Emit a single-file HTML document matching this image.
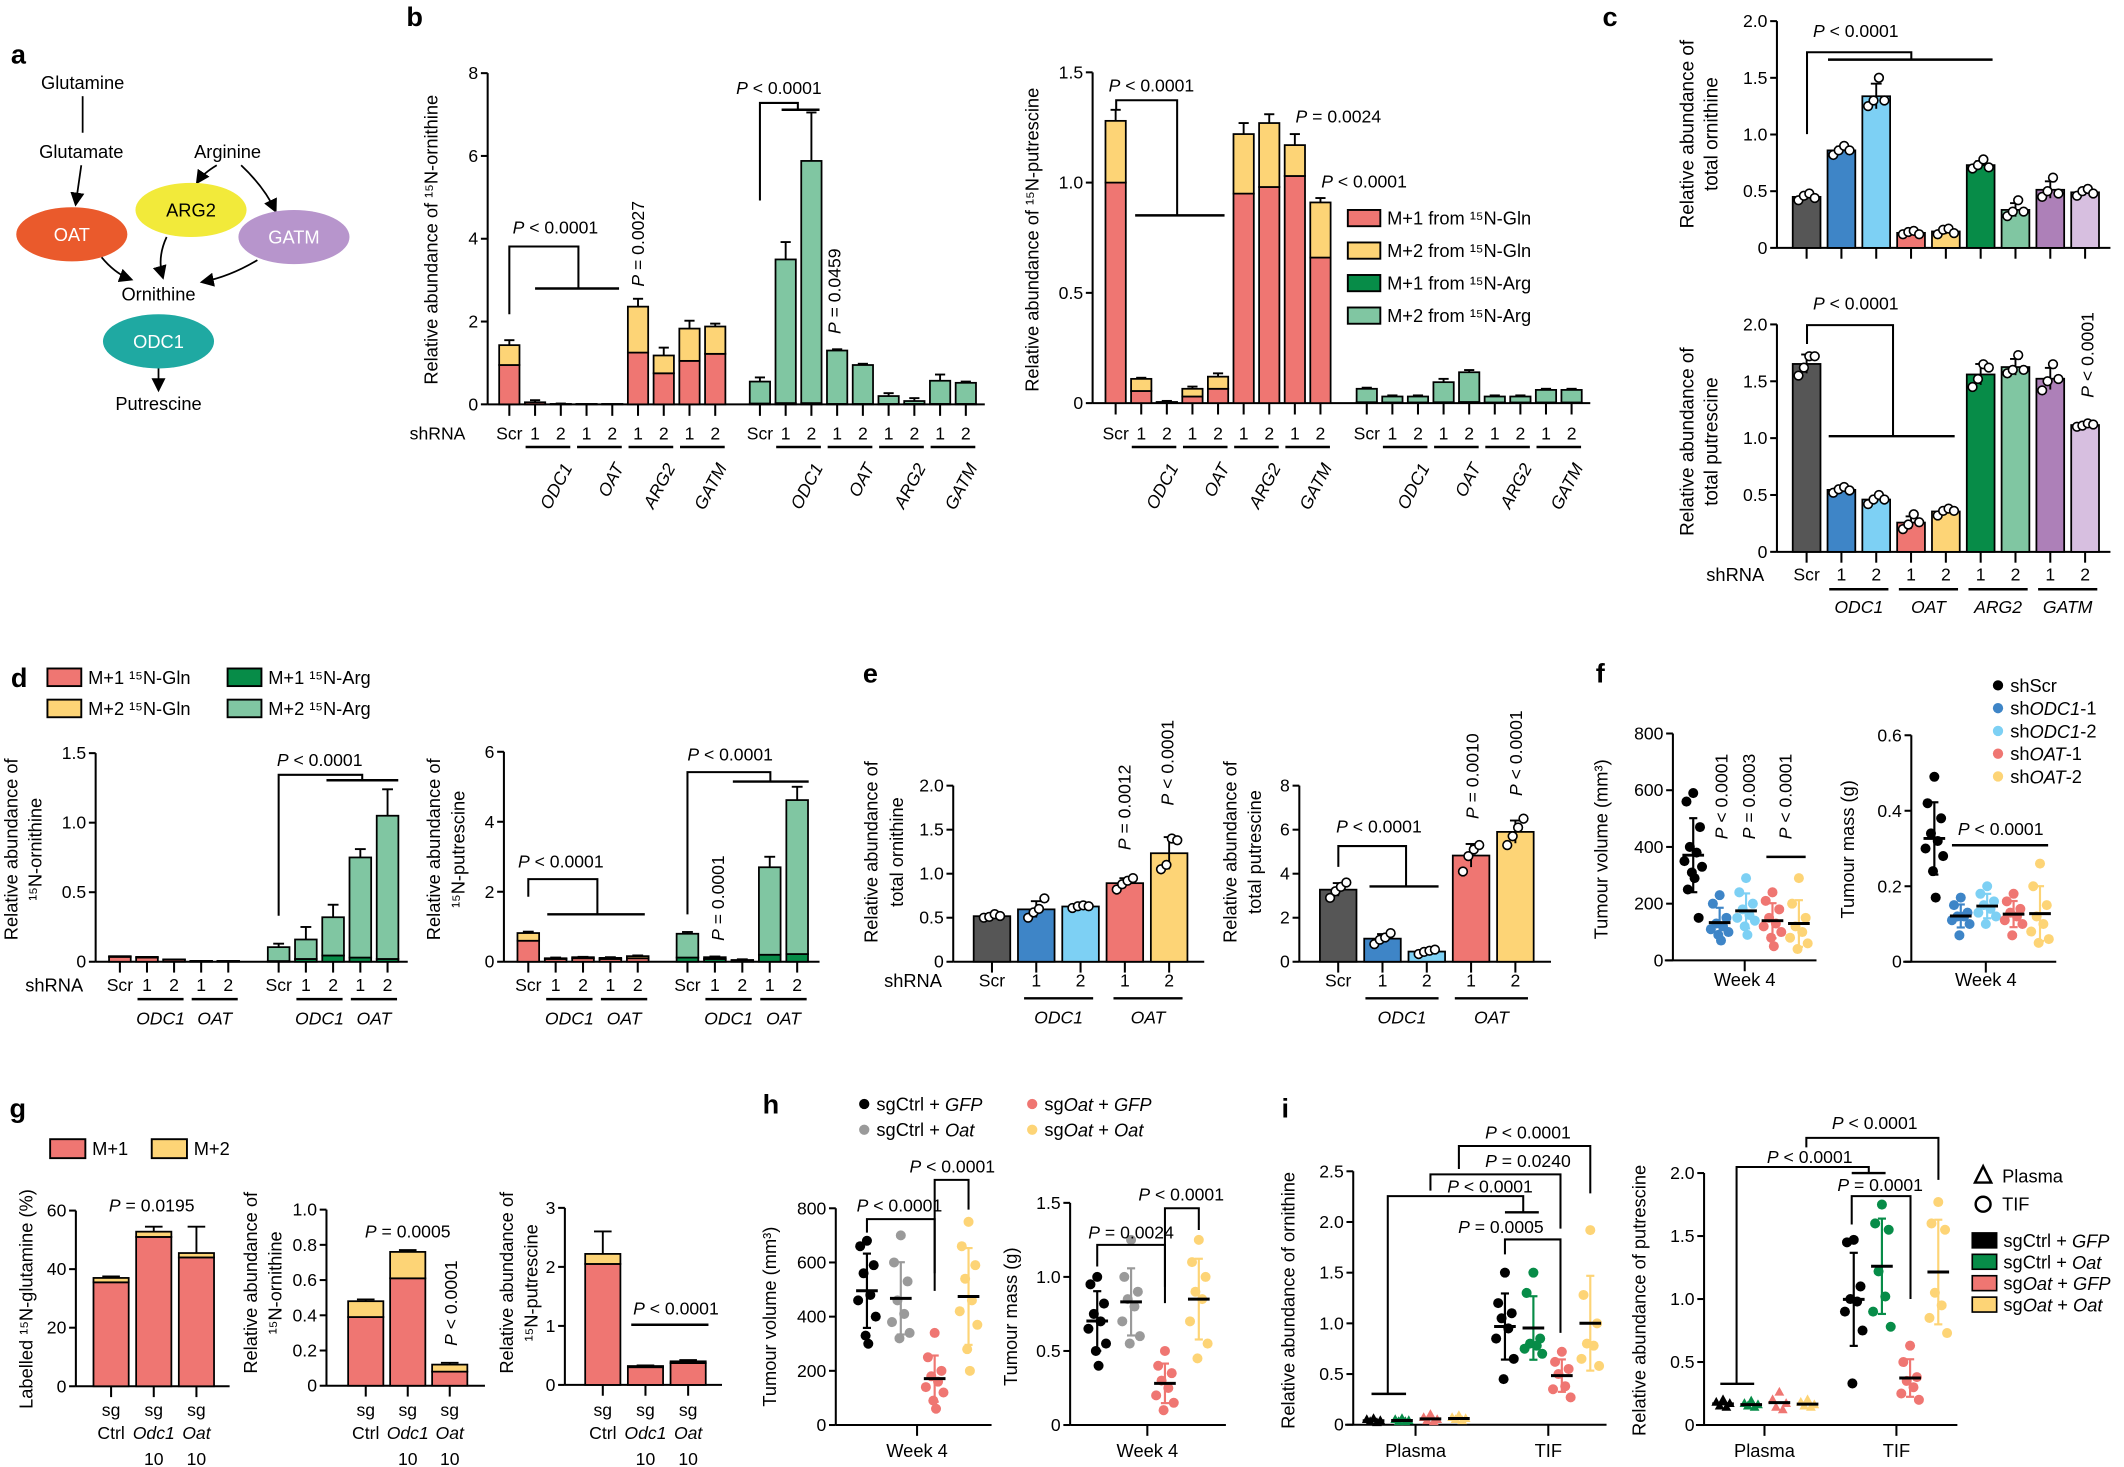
<!DOCTYPE html>
<html><head><meta charset="utf-8"><style>
html,body{margin:0;padding:0;background:#fff}
svg{display:block;font-family:"Liberation Sans",Arial,sans-serif}
</style></head><body>
<svg id="fig" xmlns="http://www.w3.org/2000/svg" width="2124" height="1467" viewBox="0 0 1568 1083"></svg>
<script>
// ---------- DATA ----------
const bCats=['Scr','1','2','1','2','1','2','1','2'];
const bOrnGlnM1=[0.95,0.05,0.01,0.01,0.01,1.25,0.75,1.05,1.22];
const bOrnGlnM2=[0.48,0.0,0.0,0.0,0.0,1.11,0.43,0.78,0.66];
const bOrnGlnErr=[1.55,0.1,0.02,0,0,2.55,1.37,2.02,1.95];
const bOrnArgM1=[0.02,0.03,0.03,0.01,0.01,0.01,0.01,0.01,0.01];
const bOrnArgM2=[0.53,3.47,5.85,1.29,0.94,0.19,0.07,0.56,0.51];
const bOrnArgErr=[0.65,3.92,7.05,1.33,0.98,0.27,0.15,0.72,0.55];
const bPutGlnM1=[1.0,0.055,0.004,0.03,0.065,0.95,0.98,1.03,0.66];
const bPutGlnM2=[0.28,0.055,0.001,0.035,0.055,0.27,0.29,0.14,0.25];
const bPutGlnErr=[1.33,0.115,0.01,0.075,0.135,1.27,1.31,1.22,0.93];
const bPutArgM1=[0.004,0.003,0.003,0.004,0.005,0.003,0.003,0.003,0.003];
const bPutArgM2=[0.061,0.027,0.027,0.091,0.135,0.027,0.027,0.057,0.057];
const bPutArgErr=[0.07,0.035,0.035,0.11,0.15,0.035,0.035,0.065,0.065];
const cCats=['Scr','1','2','1','2','1','2','1','2'];
const cOrnReps=[[0.42,0.46,0.48,0.44],[0.82,0.86,0.9,0.86],[1.25,1.3,1.5,1.3],[0.12,0.14,0.15,0.12],[0.12,0.16,0.17,0.13],[0.7,0.73,0.78,0.71],[0.28,0.32,0.42,0.32],[0.45,0.5,0.62,0.48],[0.46,0.5,0.52,0.48]];
const cPutReps=[[1.55,1.62,1.72,1.72],[0.52,0.55,0.57,0.54],[0.42,0.46,0.5,0.46],[0.2,0.24,0.33,0.26],[0.32,0.36,0.38,0.36],[1.45,1.52,1.65,1.62],[1.57,1.6,1.73,1.6],[1.42,1.5,1.65,1.52],[1.1,1.11,1.13,1.12]];
const dCats=['Scr','1','2','1','2'];
const dOrnGlnM1=[0.035,0.03,0.015,0.005,0.005];
const dOrnGlnM2=[0.005,0.005,0.002,0.001,0.001];
const dOrnArgM1=[0.005,0.02,0.045,0.03,0.02];
const dOrnArgM2=[0.1,0.14,0.275,0.72,1.03];
const dOrnArgErr=[0.13,0.25,0.41,0.81,1.24];
const dPutGlnM1=[0.6,0.08,0.1,0.08,0.1];
const dPutGlnM2=[0.22,0.02,0.03,0.03,0.06];
const dPutGlnErr=[0.86,0.12,0.14,0.13,0.18];
const dPutArgM1=[0.12,0.08,0.02,0.2,0.22];
const dPutArgM2=[0.68,0.05,0.03,2.5,4.4];
const dPutArgErr=[0.85,0.15,0.07,3.0,5.0];
const eCats=['Scr','1','2','1','2'];
const eOrnReps=[[0.5,0.51,0.54,0.52],[0.5,0.56,0.6,0.72],[0.61,0.63,0.64,0.63],[0.82,0.88,0.92,0.95],[1.05,1.1,1.4,1.38]];
const ePutReps=[[2.9,3.2,3.4,3.6],[0.8,1.0,1.1,1.3],[0.35,0.45,0.5,0.55],[4.1,4.8,5.1,5.3],[5.3,5.7,6.1,6.5]];
const fVol=[[590,560,470,400,380,350,330,310,290,250,150],[230,200,150,130,120,110,100,90,70],[290,240,200,180,160,150,140,120,90],[240,210,180,150,130,120,100,80,50],[290,200,150,120,100,80,60,40]];
const fMass=[[0.49,0.42,0.38,0.34,0.32,0.3,0.28,0.24,0.17],[0.17,0.15,0.13,0.12,0.12,0.11,0.1,0.07],[0.2,0.18,0.16,0.15,0.14,0.13,0.12,0.1],[0.18,0.16,0.14,0.13,0.12,0.11,0.1,0.07],[0.26,0.2,0.15,0.12,0.1,0.08,0.06,0.05]];
const gCats=['Ctrl','Odc1','Oat'];
const gGlnM1=[35.5,51,44]; const gGlnM2=[1.5,1.8,1.5]; const gGlnErr=[37.5,54.5,54.5];
const gOrnM1=[0.39,0.61,0.08]; const gOrnM2=[0.09,0.15,0.04]; const gOrnErr=[0.49,0.77,0.13];
const gPutM1=[2.05,0.3,0.37]; const gPutM2=[0.17,0.02,0.03]; const gPutErr=[2.6,0.33,0.42];
const hVol=[[680,660,590,560,480,460,400,330,300],[700,600,530,460,410,380,340,320],[340,250,200,180,160,140,120,90,60],[750,660,590,540,460,420,370,280,200]];
const hMass=[[1.0,0.95,0.82,0.75,0.7,0.65,0.55,0.5,0.4],[1.25,1.0,0.9,0.85,0.8,0.7,0.6,0.55],[0.5,0.4,0.35,0.3,0.25,0.2,0.15,0.1],[1.25,1.1,1.0,0.9,0.85,0.7,0.55,0.45]];
const iOrnPlasma=[[0.06,0.05,0.04,0.03,0.02],[0.06,0.05,0.04,0.03,0.03],[0.1,0.07,0.05,0.04,0.03],[0.09,0.07,0.06,0.05,0.04]];
const iOrnTIF=[[1.5,1.2,1.1,1.05,0.95,0.85,0.65,0.45],[1.5,1.3,0.85,0.8,0.78,0.75,0.7],[0.72,0.62,0.55,0.5,0.38,0.35,0.27],[1.92,1.28,1.0,0.8,0.78,0.65,0.58]];
const iPutPlasma=[[0.2,0.18,0.17,0.15,0.14],[0.19,0.17,0.16,0.15,0.14],[0.26,0.2,0.17,0.14,0.12],[0.2,0.18,0.16,0.15,0.14]];
const iPutTIF=[[1.47,1.45,1.1,1.0,0.98,0.9,0.75,0.33],[1.75,1.6,1.55,1.22,1.02,0.9,0.78],[0.63,0.5,0.38,0.35,0.3,0.25,0.2],[1.77,1.6,1.55,1.05,0.95,0.85,0.73]];

// ---------- HELPERS ----------
const NS='http://www.w3.org/2000/svg';
const svg=document.getElementById('fig');
const C={red:'#ef7672',yel:'#fdd476',dg:'#078c48',lg:'#80c6a2',gray:'#565656',blue:'#3e85c7',lb:'#7dd0f4',pur:'#ad80b8',lp:'#d7bfe0',bgray:'#9a9a9a',blk:'#000'};
const JIT=[0,-5,5,-2.5,2.5,-6.5,6.5,-1,1,-4,4];
function mk(tag,p,name){const e=document.createElementNS(NS,tag);


(p||svg).appendChild(e);return e;}
function set(e,o){for(const k in o)e.setAttribute(k,o[k]);return e;}
function grp(name){return mk('g',svg,name);}
function line(p,x1,y1,x2,y2,name,w,col){return set(mk('line',p,name),{x1,y1,x2,y2,stroke:col||'#000','stroke-width':w||1.5});}
function pl(p,pts,name){return set(mk('polyline',p,name),{points:pts.map(a=>a.join(',')).join(' '),fill:'none',stroke:'#000','stroke-width':1.5});}
function text(p,x,y,html,name,o){o=o||{};const t=mk('text',p,name);
set(t,{x,y,'font-size':o.size||13,'text-anchor':o.anchor||'middle','dominant-baseline':'central',fill:o.fill||'#000'});
if(o.rot)t.setAttribute('transform','rotate('+o.rot+' '+x+' '+y+')');
if(o.bold)t.setAttribute('font-weight','bold');
if(o.it)t.setAttribute('font-style','italic');
t.innerHTML=html;return t;}
function lin(y0,y1,max){return v=>y0-(v/max)*(y0-y1);}
function mean(a){return a.reduce((s,v)=>s+v,0)/a.length;}
function sdev(a){const m=mean(a);return Math.sqrt(a.reduce((s,v)=>s+(v-m)*(v-m),0)/(a.length-1));}
function yAxis(p,x,s,ticks,labs,name){
 line(p,x,s(0),x,s(ticks[ticks.length-1]),name+'-line');
 ticks.forEach((t,i)=>{line(p,x-5,s(t),x,s(t),name+'-tick');
  text(p,x-7,s(t),labs[i],name+'-tick-label',{anchor:'end'});});}
function yTitle(p,x,y,html,name,sz){return text(p,x,y,html,name,{rot:-90,size:sz||13.5});}
function stack(p,cx,w,s,segs,cols,err,name){
 let cum=0;segs.forEach((v,i)=>{const r=mk('rect',p,name+'-seg');
  set(r,{x:cx-w/2,y:s(cum+v),width:w,height:Math.max(0,s(cum)-s(cum+v)),fill:cols[i],stroke:'#000','stroke-width':1.3});cum+=v;});
 if(err>cum){line(p,cx,s(err),cx,s(cum),name+'-error',1.4);line(p,cx-w/4,s(err),cx+w/4,s(err),name+'-error-cap',1.4);}}
function repBar(p,cx,w,s,reps,col,name){
 const m=mean(reps),sd=sdev(reps);
 const r=mk('rect',p,name);
 set(r,{x:cx-w/2,y:s(m),width:w,height:s(0)-s(m),fill:col,stroke:'#000','stroke-width':1.3});
 line(p,cx,s(m+sd),cx,s(m-sd),name+'-sd',1.4);line(p,cx-4,s(m+sd),cx+4,s(m+sd),name+'-sd-cap',1.4);
 reps.forEach((v,i)=>{const c=mk('circle',p,name+'-point');set(c,{cx:cx+[-6,-2,2,6][i%4],cy:s(v),r:3.2,fill:'#fff',stroke:'#000','stroke-width':1.2});});}
function dotGroup(p,cx,s,vals,col,name,tri,sdcol){
 const m=mean(vals),sd=sdev(vals);
 vals.forEach((v,i)=>{const dx=JIT[i%JIT.length];
  if(tri){const t=mk('polygon',p,name+'-point');const y=s(v);t.setAttribute('points',(cx+dx)+','+(y-4)+' '+(cx+dx-3.6)+','+(y+2.5)+' '+(cx+dx+3.6)+','+(y+2.5));t.setAttribute('fill',col);}
  else{const c=mk('circle',p,name+'-point');set(c,{cx:cx+dx,cy:s(v),r:3.7,fill:col});}});
 if(!tri){const sc=sdcol||col;line(p,cx,s(m+sd),cx,s(Math.max(0,m-sd)),name+'-sd',1.6,sc);
  line(p,cx-3,s(m+sd),cx+3,s(m+sd),name+'-sd-cap',1.6,sc);line(p,cx-3,s(Math.max(0,m-sd)),cx+3,s(Math.max(0,m-sd)),name+'-sd-cap',1.6,sc);}
 line(p,cx-8,s(m),cx+8,s(m),name+'-mean',2.2,'#000');}
function xLabels(p,xs,y,cats,name){cats.forEach((c,i)=>text(p,xs[i],y,c,name));}
function under(p,x1,x2,y,lab,ly,rot,name){line(p,x1,y,x2,y,name+'-underline',1.8);
 if(rot)text(p,x2-2,ly,lab,name,{it:true,anchor:'end',rot:rot});else text(p,(x1+x2)/2,ly,lab,name,{it:true});}
function ticksDown(p,xs,y,name){xs.forEach(x=>line(p,x,y,x,y+8,name));}
function pLabel(p,x,y,rest,name,o){o=o||{};return text(p,x,y,'<tspan font-style="italic">P</tspan> '+rest,name,o);}
function idx(n,x0,st){const a=[];for(let i=0;i<n;i++)a.push(x0+i*st);return a;}

// ---------- PANEL LETTERS ----------
const L=grp('panel-letters');
[['a',8,40],['b',300,12],['c',1183,12],['d',8,500],['e',637,497],['f',1178,497],['g',7,818],['h',563,815],['i',946,818]].forEach(a=>text(L,a[1],a[2],a[0],'panel-letter-'+a[0],{size:20,bold:true,anchor:'start'}));

// ---------- PANEL A ----------
(function(){const p=grp('panel-a-pathway');
 const arrow=(d,name)=>{const e=mk('path',p,name);set(e,{d:d,fill:'none',stroke:'#000','stroke-width':1.3,'marker-end':'url(#ah)'});};
 const defs=mk('defs',p,'arrow-defs');defs.innerHTML='<marker id="ah" markerWidth="8" markerHeight="8" refX="6" refY="4" orient="auto"><path d="M0,0 L8,4 L0,8 z" fill="#000"/></marker>';
 text(p,61,61,'Glutamine','glutamine-label',{size:13.5});
 line(p,61,71,61,98,'glutamine-arrow',1.3);
 text(p,60,112,'Glutamate','glutamate-label',{size:13.5});
 text(p,168,112,'Arginine','arginine-label',{size:13.5});
 arrow('M60,122 L56,150','glutamate-to-oat');
 arrow('M160,122 Q150,128 146,134','arginine-to-arg2');
 arrow('M178,122 Q195,138 203,155','arginine-to-gatm');
 const ell=(cx,cy,col,lab,name)=>{const e=mk('ellipse',p,name);set(e,{cx,cy,rx:41,ry:20,fill:col});text(p,cx,cy,lab,name+'-label',{size:13.5,fill:lab==='ARG2'?'#000':'#fff'});};
 ell(53,173,'#ea5a2c','OAT','oat-enzyme');ell(141,155,'#f2ea3a','ARG2','arg2-enzyme');ell(217,175,'#b795cc','GATM','gatm-enzyme');
 arrow('M75,190 Q85,202 96,206','oat-to-ornithine');
 arrow('M123,175 Q116,190 120,204','arg2-to-ornithine');
 arrow('M190,192 Q170,204 150,208','gatm-to-ornithine');
 text(p,117,217,'Ornithine','ornithine-label',{size:13.5});
 ell(117,252,'#1fa9a2','ODC1','odc1-enzyme');
 arrow('M117,272 L117,287','odc1-to-putrescine');
 text(p,117,298,'Putrescine','putrescine-label',{size:13.5});})();

// ---------- PANEL B ----------
(function(){const p=grp('panel-b-ornithine');const s=lin(298.5,54,8);
 yAxis(p,360,s,[0,2,4,6,8],['0','2','4','6','8'],'b-left-y-axis');
 yTitle(p,318,177,'Relative abundance of ¹⁵N-ornithine','b-left-y-title');
 line(p,360,298.5,727,298.5,'b-left-x-axis');
 const x1=idx(9,376,19),x2=idx(9,561,19);
 bCats.forEach((c,i)=>{stack(p,x1[i],15,s,[bOrnGlnM1[i],bOrnGlnM2[i]],[C.red,C.yel],bOrnGlnErr[i],'b-orn-gln-bar');
  stack(p,x2[i],15,s,[bOrnArgM1[i],bOrnArgM2[i]],[C.dg,C.lg],bOrnArgErr[i],'b-orn-arg-bar');});
 ticksDown(p,x1.concat(x2),299,'b-left-x-tick');
 text(p,323,320,'shRNA','b-left-shrna-label');
 xLabels(p,x1,320,bCats,'b-left-x-label');xLabels(p,x2,320,bCats,'b-left-x-label');
 ['ODC1','OAT','ARG2','GATM'].forEach((g,k)=>{under(p,x1[1+2*k]-7,x1[2+2*k]+7,330,g,343,-62,'b-left-group');under(p,x2[1+2*k]-7,x2[2+2*k]+7,330,g,343,-62,'b-left-group2');});
 pLabel(p,410,168,'&lt; 0.0001','b-left-p1');
 pl(p,[[376,232],[376,182],[427,182],[427,213]],'b-left-bracket1');line(p,395,213,457,213,'b-left-bracket1-bar',1.8);
 pLabel(p,471,180,'= 0.0027','b-left-p2',{rot:-90});
 pLabel(p,575,65,'&lt; 0.0001','b-left-p3');
 pl(p,[[561,148],[561,76],[589,76],[589,81]],'b-left-bracket3');line(p,577,81,605,81,'b-left-bracket3-bar',1.8);
 pLabel(p,616,215,'= 0.0459','b-left-p4',{rot:-90});
})();
(function(){const p=grp('panel-b-putrescine');const s=lin(297.6,53.4,1.5);
 yAxis(p,806.6,s,[0,0.5,1.0,1.5],['0','0.5','1.0','1.5'],'b-right-y-axis');
 yTitle(p,762,177,'Relative abundance of ¹⁵N-putrescine','b-right-y-title');
 line(p,806.6,297.6,1174,297.6,'b-right-x-axis');
 const x1=idx(9,823.6,18.9),x2=idx(9,1009,18.9);
 bCats.forEach((c,i)=>{stack(p,x1[i],15,s,[bPutGlnM1[i],bPutGlnM2[i]],[C.red,C.yel],bPutGlnErr[i],'b-put-gln-bar');
  stack(p,x2[i],15,s,[bPutArgM1[i],bPutArgM2[i]],[C.dg,C.lg],bPutArgErr[i],'b-put-arg-bar');});
 ticksDown(p,x1.concat(x2),298,'b-right-x-tick');
 xLabels(p,x1,320,bCats,'b-right-x-label');xLabels(p,x2,320,bCats,'b-right-x-label');
 ['ODC1','OAT','ARG2','GATM'].forEach((g,k)=>{under(p,x1[1+2*k]-7,x1[2+2*k]+7,330,g,343,-62,'b-right-group');under(p,x2[1+2*k]-7,x2[2+2*k]+7,330,g,343,-62,'b-right-group2');});
 pLabel(p,850,63,'&lt; 0.0001','b-right-p1');
 pl(p,[[824,81],[824,74],[869,74],[869,159]],'b-right-bracket1');line(p,838,159,904,159,'b-right-bracket1-bar',1.8);
 pLabel(p,988,86,'= 0.0024','b-right-p2');pLabel(p,1007,134,'&lt; 0.0001','b-right-p3');
 const lg=[['M+1 from ¹⁵N-Gln',C.red],['M+2 from ¹⁵N-Gln',C.yel],['M+1 from ¹⁵N-Arg',C.dg],['M+2 from ¹⁵N-Arg',C.lg]];
 lg.forEach((e,i)=>{const y=161+i*24;const r=mk('rect',p,'b-legend-swatch');set(r,{x:995,y:y-6,width:24,height:12,fill:e[1],stroke:'#000','stroke-width':1.4});
  text(p,1024,y,e[0],'b-legend-label',{anchor:'start',size:13.5});});
})();

// ---------- PANEL C ----------
(function(){const cols=[C.gray,C.blue,C.lb,C.red,C.yel,C.dg,C.lg,C.pur,C.lp];const xs=idx(9,1333.7,25.7);
 const p=grp('panel-c-ornithine');const s=lin(183,15.6,2.0);
 yAxis(p,1311.8,s,[0,0.5,1.0,1.5,2.0],['0','0.5','1.0','1.5','2.0'],'c-top-y-axis');
 yTitle(p,1246,99,'Relative abundance of','c-top-y-title-1',14);yTitle(p,1264,99,'total ornithine','c-top-y-title-2',14);
 line(p,1311.8,183,1558,183,'c-top-x-axis');
 cOrnReps.forEach((r,i)=>repBar(p,xs[i],20.5,s,r,cols[i],'c-ornithine-bar'));
 ticksDown(p,xs,183,'c-top-x-tick');
 pLabel(p,1370,23,'&lt; 0.0001','c-top-p');
 pl(p,[[1334,99],[1334,38.6],[1411,38.6],[1411,44]],'c-top-bracket');line(p,1349.5,44,1471,44,'c-top-bracket-bar',1.8);
 const q=grp('panel-c-putrescine');const t=lin(407.4,239.5,2.0);
 yAxis(q,1311.8,t,[0,0.5,1.0,1.5,2.0],['0','0.5','1.0','1.5','2.0'],'c-bottom-y-axis');
 yTitle(q,1246,326,'Relative abundance of','c-bottom-y-title-1',14);yTitle(q,1264,326,'total putrescine','c-bottom-y-title-2',14);
 line(q,1311.8,407.4,1558,407.4,'c-bottom-x-axis');
 cPutReps.forEach((r,i)=>repBar(q,xs[i],20.5,t,r,cols[i],'c-putrescine-bar'));
 ticksDown(q,xs,407.4,'c-bottom-x-tick');
 pLabel(q,1370,224,'&lt; 0.0001','c-bottom-p1');
 pl(q,[[1334,254],[1334,240],[1397.5,240],[1397.5,322]],'c-bottom-bracket');line(q,1350,322,1443,322,'c-bottom-bracket-bar',1.8);
 pLabel(q,1541,262,'&lt; 0.0001','c-bottom-p2',{rot:-90});
 text(q,1281,424,'shRNA','c-shrna-label',{size:13.5});xLabels(q,xs,424,cCats,'c-x-label');
 ['ODC1','OAT','ARG2','GATM'].forEach((g,k)=>under(q,xs[1+2*k]-9,xs[2+2*k]+9,435,g,448,0,'c-group'));
})();

// ---------- PANEL D ----------
(function(){const p=grp('panel-d');
 const lg=[['M+1 ¹⁵N-Gln',C.red,35,500],['M+2 ¹⁵N-Gln',C.yel,35,523],['M+1 ¹⁵N-Arg',C.dg,168,500],['M+2 ¹⁵N-Arg',C.lg,168,523]];
 lg.forEach(e=>{const r=mk('rect',p,'d-legend-swatch');set(r,{x:e[2],y:e[3]-6.5,width:25,height:13,fill:e[1],stroke:'#000','stroke-width':1.4});text(p,e[2]+30,e[3],e[0],'d-legend-label',{anchor:'start',size:13.5});});
 const s=lin(710,556,1.5);
 yAxis(p,70.6,s,[0,0.5,1.0,1.5],['0','0.5','1.0','1.5'],'d-left-y-axis');
 yTitle(p,8,627,'Relative abundance of','d-left-y-title-1');yTitle(p,26,627,'¹⁵N-ornithine','d-left-y-title-2');
 line(p,70.6,710,301,710,'d-left-x-axis');
 const x1=idx(5,88.5,20),x2=idx(5,205.7,20.1);
 dCats.forEach((c,i)=>{stack(p,x1[i],16,s,[dOrnGlnM1[i],dOrnGlnM2[i]],[C.red,C.yel],0,'d-orn-gln-bar');
  stack(p,x2[i],16,s,[dOrnArgM1[i],dOrnArgM2[i]],[C.dg,C.lg],dOrnArgErr[i],'d-orn-arg-bar');});
 ticksDown(p,x1.concat(x2),710,'d-left-x-tick');
 text(p,40,727,'shRNA','d-shrna-label',{size:13.5});xLabels(p,x1,727,dCats,'d-left-x-label');xLabels(p,x2,727,dCats,'d-left-x-label');
 [[x1,'d-left-group'],[x2,'d-left-group2']].forEach(a=>{under(p,a[0][1]-7,a[0][2]+7,737.6,'ODC1',752,0,a[1]);under(p,a[0][3]-7,a[0][4]+7,737.6,'OAT',752,0,a[1]);});
 pLabel(p,236,561,'&lt; 0.0001','d-left-p');
 pl(p,[[205.7,676],[205.7,572],[267.4,572],[267.4,576]],'d-left-bracket');line(p,241,576,294,576,'d-left-bracket-bar',1.8);
 const t=lin(710,555,6);
 yAxis(p,372,t,[0,2,4,6],['0','2','4','6'],'d-right-y-axis');
 yTitle(p,320,627,'Relative abundance of','d-right-y-title-1');yTitle(p,338,627,'¹⁵N-putrescine','d-right-y-title-2');
 line(p,372,710,605,710,'d-right-x-axis');
 const y1=idx(5,390,20.2),y2=idx(5,507.5,20.25);
 dCats.forEach((c,i)=>{stack(p,y1[i],16,t,[dPutGlnM1[i],dPutGlnM2[i]],[C.red,C.yel],dPutGlnErr[i],'d-put-gln-bar');
  stack(p,y2[i],16,t,[dPutArgM1[i],dPutArgM2[i]],[C.dg,C.lg],dPutArgErr[i],'d-put-arg-bar');});
 ticksDown(p,y1.concat(y2),710,'d-right-x-tick');
 xLabels(p,y1,727,dCats,'d-right-x-label');xLabels(p,y2,727,dCats,'d-right-x-label');
 [[y1,'d-right-group'],[y2,'d-right-group2']].forEach(a=>{under(p,a[0][1]-7,a[0][2]+7,737.6,'ODC1',752,0,a[1]);under(p,a[0][3]-7,a[0][4]+7,737.6,'OAT',752,0,a[1]);});
 pLabel(p,414,636,'&lt; 0.0001','d-right-p1');
 pl(p,[[390,662],[390,649],[441,649],[441,675]],'d-right-bracket1');line(p,404,675,476,675,'d-right-bracket1-bar',1.8);
 pLabel(p,539,557,'&lt; 0.0001','d-right-p2');
 pl(p,[[507.5,675],[507.5,570],[568.7,570],[568.7,577]],'d-right-bracket2');line(p,541,577,597,577,'d-right-bracket2-bar',1.8);
 pLabel(p,530,663,'= 0.0001','d-right-p3',{rot:-90});
})();

// ---------- PANEL E ----------
(function(){const p=grp('panel-e');const cols=[C.gray,C.blue,C.lb,C.red,C.yel];
 const s=lin(710,580,2.0);const x1=idx(5,732.3,32.7);
 yAxis(p,703.7,s,[0,0.5,1.0,1.5,2.0],['0','0.5','1.0','1.5','2.0'],'e-left-y-axis');
 yTitle(p,643,629,'Relative abundance of','e-left-y-title-1');yTitle(p,662,629,'total ornithine','e-left-y-title-2');
 line(p,703.7,710,889,710,'e-left-x-axis');
 eOrnReps.forEach((r,i)=>repBar(p,x1[i],27,s,r,cols[i],'e-ornithine-bar'));
 ticksDown(p,x1,710,'e-left-x-tick');
 text(p,674,724,'shRNA','e-shrna-label',{size:13.5});xLabels(p,x1,724,eCats,'e-left-x-label');
 under(p,756,807,737,'ODC1',751,0,'e-left-group');under(p,822,873,737,'OAT',751,0,'e-left-group');
 pLabel(p,830,596,'= 0.0012','e-left-p1',{rot:-90});pLabel(p,862,563,'&lt; 0.0001','e-left-p2',{rot:-90});
 const t=lin(710,580,8);const x2=idx(5,987.9,32.7);
 yAxis(p,959.2,t,[0,2,4,6,8],['0','2','4','6','8'],'e-right-y-axis');
 yTitle(p,908,629,'Relative abundance of','e-right-y-title-1');yTitle(p,926,629,'total putrescine','e-right-y-title-2');
 line(p,959.2,710,1145,710,'e-right-x-axis');
 ePutReps.forEach((r,i)=>repBar(p,x2[i],27,t,r,cols[i],'e-putrescine-bar'));
 ticksDown(p,x2,710,'e-right-x-tick');
 xLabels(p,x2,724,eCats,'e-right-x-label');
 under(p,1008,1062,737,'ODC1',751,0,'e-right-group');under(p,1074,1128,737,'OAT',751,0,'e-right-group');
 pLabel(p,1018,610,'&lt; 0.0001','e-right-p1');
 pl(p,[[988,640],[988,624.6],[1038,624.6],[1038,654.4]],'e-right-bracket');line(p,1011,654.4,1062,654.4,'e-right-bracket-bar',1.8);
 pLabel(p,1087,573,'= 0.0010','e-right-p2',{rot:-90});pLabel(p,1119,556,'&lt; 0.0001','e-right-p3',{rot:-90});
})();

// ---------- PANEL F ----------
(function(){const p=grp('panel-f');const cols=[C.blk,C.blue,C.lb,C.red,C.yel];
 const s=lin(709,541.5,800);const x1=idx(5,1250,19.5);
 yAxis(p,1235,s,[0,200,400,600,800],['0','200','400','600','800'],'f-left-y-axis');
 yTitle(p,1182,627,'Tumour volume (mm³)','f-left-y-title');
 line(p,1229,709,1341,709,'f-left-x-axis');line(p,1288,709,1288,717,'f-left-x-tick');
 fVol.forEach((v,i)=>dotGroup(p,x1[i],s,v,cols[i],'f-volume-group'));
 text(p,1288,723,'Week 4','f-left-x-label',{size:13.5});
 pLabel(p,1271,588,'&lt; 0.0001','f-left-p1',{rot:-90});pLabel(p,1291,588,'= 0.0003','f-left-p2',{rot:-90});pLabel(p,1318,588,'&lt; 0.0001','f-left-p3',{rot:-90});
 line(p,1304,632.6,1333,632.6,'f-left-p3-bar',1.8);
 const t=lin(710,542.8,0.6);const x2=idx(5,1428,19.5);
 yAxis(p,1411,t,[0,0.2,0.4,0.6],['0','0.2','0.4','0.6'],'f-right-y-axis');
 yTitle(p,1364,627,'Tumour mass (g)','f-right-y-title');
 line(p,1405,710,1518,710,'f-right-x-axis');line(p,1466,710,1466,718,'f-right-x-tick');
 fMass.forEach((v,i)=>dotGroup(p,x2[i],t,v,cols[i],'f-mass-group'));
 text(p,1466,723,'Week 4','f-right-x-label',{size:13.5});
 pLabel(p,1477,612,'&lt; 0.0001','f-right-p');line(p,1441,624,1512,624,'f-right-p-bar',1.8);
 const lg=['shScr','sh<tspan font-style="italic">ODC1</tspan>-1','sh<tspan font-style="italic">ODC1</tspan>-2','sh<tspan font-style="italic">OAT</tspan>-1','sh<tspan font-style="italic">OAT</tspan>-2'];
 lg.forEach((l,i)=>{const y=506+i*16.8;const c=mk('circle',p,'f-legend-marker');set(c,{cx:1475,cy:y,r:3.8,fill:cols[i]});text(p,1484,y,l,'f-legend-label',{anchor:'start',size:13.5});});
})();

// ---------- PANEL G ----------
(function(){const p=grp('panel-g');
 [[37,'M+1',C.red],[112,'M+2',C.yel]].forEach(e=>{const r=mk('rect',p,'g-legend-swatch');set(r,{x:e[0],y:841,width:26,height:14,fill:e[2],stroke:'#000','stroke-width':1.4});text(p,e[0]+31,848,e[1],'g-legend-label',{anchor:'start',size:13.5});});
 const sub=(p,xs,name)=>{xs.forEach((x,i)=>{text(p,x,1041,'sg',name);text(p,x,1058,gCats[i],name,{it:i>0});if(i>0)text(p,x,1077,'10',name);});};
 const s=lin(1023.4,893.7,60);const x1=idx(3,82,31.5);
 yAxis(p,56,s,[0,20,40,60],['0','20','40','60'],'g1-y-axis');
 yTitle(p,19,959,'Labelled ¹⁵N-glutamine (%)','g1-y-title');
 line(p,56,1023.4,169.5,1023.4,'g1-x-axis');
 gCats.forEach((c,i)=>stack(p,x1[i],26,s,[gGlnM1[i],gGlnM2[i]],[C.red,C.yel],gGlnErr[i],'g-glutamine-bar'));
 ticksDown(p,x1,1023.4,'g1-x-tick');sub(p,x1,'g1-x-label');
 pLabel(p,112,890,'= 0.0195','g1-p');
 const t=lin(1023,893,1.0);const x2=idx(3,270,31);
 yAxis(p,241,t,[0,0.2,0.4,0.6,0.8,1.0],['0','0.2','0.4','0.6','0.8','1.0'],'g2-y-axis');
 yTitle(p,185,947,'Relative abundance of','g2-y-title-1');yTitle(p,203,947,'¹⁵N-ornithine','g2-y-title-2');
 line(p,241,1023,358,1023,'g2-x-axis');
 gCats.forEach((c,i)=>stack(p,x2[i],26,t,[gOrnM1[i],gOrnM2[i]],[C.red,C.yel],gOrnErr[i],'g-ornithine-bar'));
 ticksDown(p,x2,1023,'g2-x-tick');sub(p,x2,'g2-x-label');
 pLabel(p,301,909,'= 0.0005','g2-p1');pLabel(p,333,962,'&lt; 0.0001','g2-p2',{rot:-90});
 const u=lin(1022.4,891.7,3);const x3=idx(3,445,31.5);
 yAxis(p,417,u,[0,1,2,3],['0','1','2','3'],'g3-y-axis');
 yTitle(p,374,947,'Relative abundance of','g3-y-title-1');yTitle(p,392,947,'¹⁵N-putrescine','g3-y-title-2');
 line(p,417,1022.4,533,1022.4,'g3-x-axis');
 gCats.forEach((c,i)=>stack(p,x3[i],26,u,[gPutM1[i],gPutM2[i]],[C.red,C.yel],gPutErr[i],'g-putrescine-bar'));
 ticksDown(p,x3,1022.4,'g3-x-tick');sub(p,x3,'g3-x-label');
 pLabel(p,499,966,'&lt; 0.0001','g3-p');line(p,466,978,523,978,'g3-p-bar',1.8);
})();

// ---------- PANEL H ----------
(function(){const p=grp('panel-h');const cols=[C.blk,C.bgray,C.red,C.yel];
 const lg=[[638,815,'sgCtrl + <tspan font-style="italic">GFP</tspan>'],[638,834,'sgCtrl + <tspan font-style="italic">Oat</tspan>'],[762,815,'sg<tspan font-style="italic">Oat</tspan> + <tspan font-style="italic">GFP</tspan>'],[762,834,'sg<tspan font-style="italic">Oat</tspan> + <tspan font-style="italic">Oat</tspan>']];
 lg.forEach((e,i)=>{const c=mk('circle',p,'h-legend-marker');set(c,{cx:e[0],cy:e[1],r:3.8,fill:cols[i]});text(p,e[0]+9,e[1],e[2],'h-legend-label',{anchor:'start',size:13.5});});
 const s=lin(1052,892,800);const x1=idx(4,640,25);
 yAxis(p,617,s,[0,200,400,600,800],['0','200','400','600','800'],'h-left-y-axis');
 yTitle(p,568,972,'Tumour volume (mm³)','h-left-y-title');
 line(p,617,1052,732,1052,'h-left-x-axis');line(p,677,1052,677,1060,'h-left-x-tick');
 hVol.forEach((v,i)=>dotGroup(p,x1[i],s,v,cols[i],'h-volume-group',false,i===0?'#000':cols[i]));
 text(p,677,1071,'Week 4','h-left-x-label',{size:13.5});
 pLabel(p,664,890,'&lt; 0.0001','h-left-p1');pl(p,[[640,910],[640,900],[690,900],[690,953]],'h-left-bracket1');
 pLabel(p,703,861,'&lt; 0.0001','h-left-p2');pl(p,[[690,940],[690,871],[715,871],[715,893]],'h-left-bracket2');
 const t=lin(1052,888,1.5);const x2=idx(4,810,25);
 yAxis(p,790,t,[0,0.5,1.0,1.5],['0','0.5','1.0','1.5'],'h-right-y-axis');
 yTitle(p,746,972,'Tumour mass (g)','h-right-y-title');
 line(p,790,1052,905,1052,'h-right-x-axis');line(p,847,1052,847,1060,'h-right-x-tick');
 hMass.forEach((v,i)=>dotGroup(p,x2[i],t,v,cols[i],'h-mass-group',false,i===0?'#000':cols[i]));
 text(p,847,1071,'Week 4','h-right-x-label',{size:13.5});
 pLabel(p,835,910,'= 0.0024','h-right-p1');pl(p,[[810,935],[810,919],[860,919],[860,962]],'h-right-bracket1');
 pLabel(p,872,882,'&lt; 0.0001','h-right-p2');pl(p,[[860,950],[860,892],[885,892],[885,908]],'h-right-bracket2');
})();

// ---------- PANEL I ----------
(function(){const p=grp('panel-i');const cols=[C.blk,C.dg,C.red,C.yel];
 const s=lin(1051.8,864.7,2.5);const pl1=idx(4,1014,21),tf1=idx(4,1111,21);
 yAxis(p,999,s,[0,0.5,1.0,1.5,2.0,2.5],['0','0.5','1.0','1.5','2.0','2.5'],'i-left-y-axis');
 yTitle(p,951,960,'Relative abundance of ornithine','i-left-y-title');
 line(p,993,1051.8,1186,1051.8,'i-left-x-axis');line(p,1045,1052,1045,1060,'i-left-x-tick');line(p,1143,1052,1143,1060,'i-left-x-tick');
 iOrnPlasma.forEach((v,i)=>dotGroup(p,pl1[i],s,v,cols[i],'i-orn-plasma-group',true));
 iOrnTIF.forEach((v,i)=>dotGroup(p,tf1[i],s,v,cols[i],'i-orn-tif-group',false));
 text(p,1045,1071,'Plasma','i-left-x-label',{size:13.5});text(p,1143,1071,'TIF','i-left-x-label',{size:13.5});
 pLabel(p,1128,836,'&lt; 0.0001','i-left-p1');pl(p,[[1077,863],[1077,846],[1174,846],[1174,881]],'i-left-bracket1');
 pLabel(p,1128,857,'= 0.0240','i-left-p2');pl(p,[[1056,879],[1056,867],[1152,867],[1152,907]],'i-left-bracket2');
 pLabel(p,1100,876,'&lt; 0.0001','i-left-p3');pl(p,[[1024.5,1029],[1024.5,883],[1124.5,883],[1124.5,895]],'i-left-bracket3');
 line(p,1111,895,1136,895,'i-left-bracket3-bar',1.8);line(p,1012.5,1029,1038,1029,'i-left-plasma-bar',1.8);
 pLabel(p,1108,906,'= 0.0005','i-left-p4');pl(p,[[1111,926],[1111,915],[1152,915],[1152,984]],'i-left-bracket4');
 const t=lin(1052,866,2.0);const pl2=idx(4,1272,20.8),tf2=idx(4,1368.5,20.8);
 yAxis(p,1258,t,[0,0.5,1.0,1.5,2.0],['0','0.5','1.0','1.5','2.0'],'i-right-y-axis');
 yTitle(p,1210,960,'Relative abundance of putrescine','i-right-y-title');
 line(p,1252,1052,1445,1052,'i-right-x-axis');line(p,1302.6,1052,1302.6,1060,'i-right-x-tick');line(p,1400,1052,1400,1060,'i-right-x-tick');
 iPutPlasma.forEach((v,i)=>dotGroup(p,pl2[i],t,v,cols[i],'i-put-plasma-group',true));
 iPutTIF.forEach((v,i)=>dotGroup(p,tf2[i],t,v,cols[i],'i-put-tif-group',false));
 text(p,1302.6,1071,'Plasma','i-right-x-label',{size:13.5});text(p,1400,1071,'TIF','i-right-x-label',{size:13.5});
 pLabel(p,1384,829,'&lt; 0.0001','i-right-p1');pl(p,[[1333.5,847],[1333.5,840],[1431,840],[1431,871]],'i-right-bracket1');
 pLabel(p,1336,854,'&lt; 0.0001','i-right-p2');pl(p,[[1282,1021.6],[1282,861.5],[1379.6,861.5],[1379.6,866]],'i-right-bracket2');
 line(p,1367,866,1392,866,'i-right-bracket2-bar',1.8);line(p,1270,1021.6,1295,1021.6,'i-right-plasma-bar',1.8);
 pLabel(p,1388,875,'= 0.0001','i-right-p3');pl(p,[[1367,904],[1367,883],[1410.4,883],[1410.4,959]],'i-right-bracket3');
 const tri=mk('polygon',p,'i-legend-plasma-marker');tri.setAttribute('points','1464,861 1458,873 1470,873');tri.setAttribute('fill','none');tri.setAttribute('stroke','#000');tri.setAttribute('stroke-width','1.8');
 text(p,1478,868,'Plasma','i-legend-plasma-label',{anchor:'start',size:13.5});
 const ci=mk('circle',p,'i-legend-tif-marker');set(ci,{cx:1464,cy:889,r:5.5,fill:'none',stroke:'#000','stroke-width':1.8});
 text(p,1478,889,'TIF','i-legend-tif-label',{anchor:'start',size:13.5});
 const lg=['sgCtrl + <tspan font-style="italic">GFP</tspan>','sgCtrl + <tspan font-style="italic">Oat</tspan>','sg<tspan font-style="italic">Oat</tspan> + <tspan font-style="italic">GFP</tspan>','sg<tspan font-style="italic">Oat</tspan> + <tspan font-style="italic">Oat</tspan>'];
 lg.forEach((l,i)=>{const y=915.7+i*15.8;const r=mk('rect',p,'i-legend-swatch');set(r,{x:1456,y:y-5.5,width:18,height:11,fill:cols[i],stroke:'#000','stroke-width':1.2});text(p,1479,y,l,'i-legend-label',{anchor:'start',size:13.5});});
})();
</script>
</body></html>
